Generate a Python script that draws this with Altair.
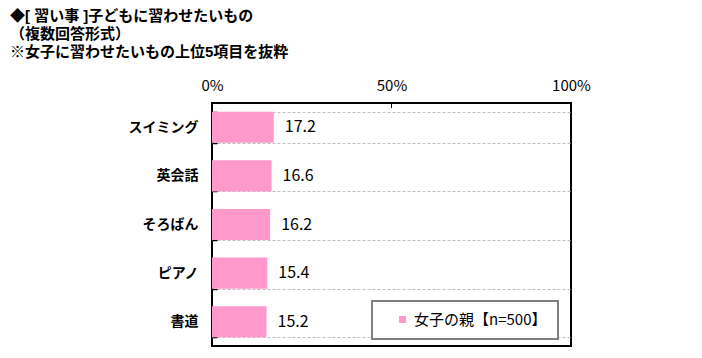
import altair as alt
import pandas as pd

categories = ["スイミング", "英会話", "そろばん", "ピアノ", "書道"]
values = [17.2, 16.6, 16.2, 15.4, 15.2]
series_name = "女子の親【n=500】"
x_ticks = [0, 50, 100]
mid_ticks = [50]
title_lines = ["◆[ 習い事 ]子どもに習わせたいもの", "（複数回答形式）", "※女子に習わせたいもの上位5項目を抜粋"]

FONT = "Noto Sans CJK JP"
TITLE_FONT = "Liberation Sans, Noto Sans CJK JP"
PINK = "#FF99CC"

df = pd.DataFrame({"cat": categories, "val": values, "series": [series_name] * len(categories)})
df_mid = pd.DataFrame({"v": mid_ticks})

xscale = alt.Scale(domain=[0, 100], nice=False, zero=True)
yscale = alt.Scale(domain=categories, paddingInner=0.36, paddingOuter=0.18)

base = alt.Chart(df)

bars = base.mark_bar(color=PINK).encode(
    x=alt.X("val:Q", scale=xscale,
            axis=alt.Axis(orient="top", values=x_ticks, labelExpr="datum.value + '%'",
                          ticks=False, domain=False, grid=False, labelFlush=False,
                          labelFontSize=15, labelPadding=10, labelFont=FONT, title=None,
                          labelColor="#000000")),
    y=alt.Y("cat:N", scale=yscale, sort=categories,
            axis=alt.Axis(ticks=False, domain=False, grid=True, tickBand="extent",
                          gridDash=[3, 2], gridColor="#BFBFBF", gridWidth=1,
                          labelFontSize=14, labelFontWeight="bold", labelFont=FONT,
                          labelPadding=14, title=None, labelColor="#000000")),
    color=alt.Color("series:N", scale=alt.Scale(range=[PINK]),
                    legend=alt.Legend(title=None, orient="none", legendX=160, legendY=198,
                                      strokeColor="#808080", padding=11, symbolOffset=12,
                                      symbolType="square", symbolSize=49,
                                      labelFontSize=15, labelFont=FONT, labelColor="#000000",
                                      fillColor="#FFFFFF")),
)

labels = base.mark_text(align="left", baseline="middle", dx=11, fontSize=16, font=FONT,
                        color="#000000").encode(
    x=alt.X("val:Q", scale=xscale),
    y=alt.Y("cat:N", scale=yscale, sort=categories,
            axis=alt.Axis(orient="left", offset=-5, labels=False, ticks=True, tickSize=5,
                          tickBand="extent", domain=False, grid=False, tickColor="#000000",
                          tickWidth=1.5, title=None)),
    text=alt.Text("val:Q", format=".1f"),
)

midtick = alt.Chart(df_mid).mark_rule(color="#000000", strokeWidth=1).encode(
    x=alt.X("v:Q", scale=xscale),
    y=alt.value(0),
    y2=alt.value(5),
)

chart = alt.layer(bars, labels, midtick).resolve_axis(y="independent").properties(
    width=359,
    height=243,
    autosize=alt.AutoSizeParams(type="none"),
    padding={"left": 204, "top": 95, "right": 120, "bottom": 5},
    title=alt.Title(text=title_lines, anchor="start", frame="group", dx=-202,
                    fontSize=15, fontWeight="bold", font=TITLE_FONT, lineHeight=18,
                    color="#000000", offset=18),
).configure_view(stroke="#000000", strokeWidth=2).configure_legend(strokeWidth=2)

chart.save("out.html", embed_options={"renderer": "svg", "actions": False})
